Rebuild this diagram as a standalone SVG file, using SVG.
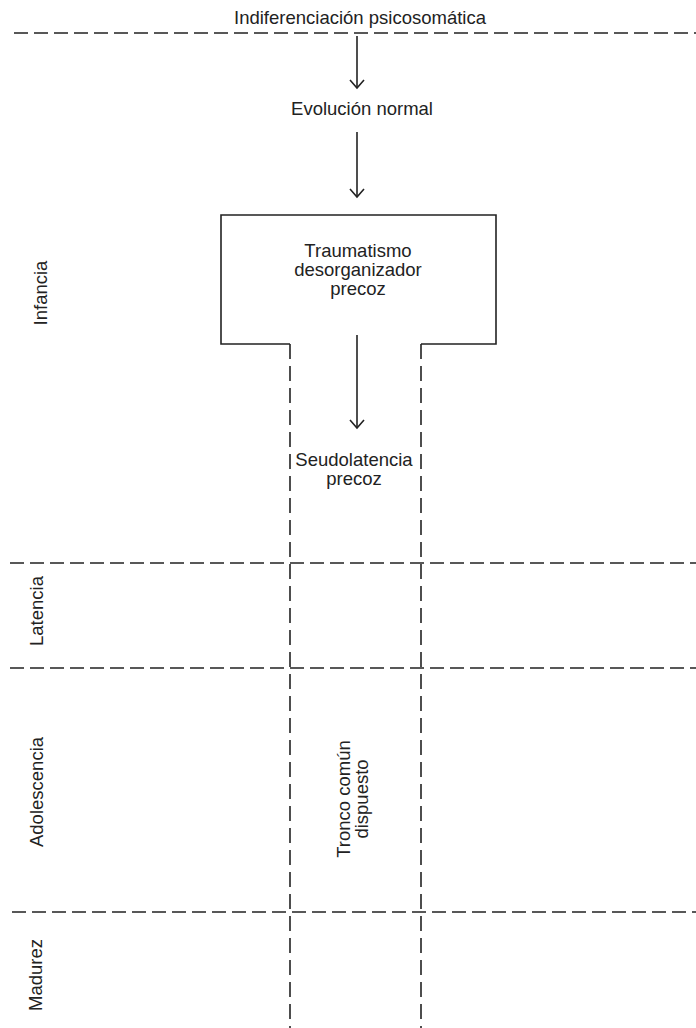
<svg xmlns="http://www.w3.org/2000/svg" width="696" height="1028" viewBox="0 0 696 1028">
<defs>
<style>
.t{font-family:"Liberation Sans",Arial,sans-serif;font-size:18.5px;fill:#222;text-anchor:middle}
.h{stroke:#222;stroke-width:1.6;stroke-dasharray:14 6;fill:none}
.v{stroke:#222;stroke-width:1.6;stroke-dasharray:15 7;fill:none}
.s{stroke:#222;stroke-width:1.6;fill:none}
</style>
<marker id="arr" markerWidth="12" markerHeight="16" refX="10" refY="8" orient="auto" markerUnits="userSpaceOnUse" viewBox="0 0 12 16">
<path d="M2,1 L10,8 L2,15" fill="none" stroke="#222" stroke-width="1.6"/>
</marker>
</defs>
<rect width="696" height="1028" fill="#fff"/>
<g id="grid">
<line class="h" x1="14" y1="33" x2="696" y2="33"/>
<line class="h" x1="10" y1="563" x2="696" y2="563"/>
<line class="h" x1="10" y1="668" x2="696" y2="668"/>
<line class="h" x1="12" y1="912" x2="696" y2="912"/>
</g>
<g id="title"><text class="t" x="360" y="24">Indiferenciación psicosomática</text></g>
<g id="evolucion"><text class="t" x="362" y="115">Evolución normal</text></g>
<g id="traumatismo">
<path class="s" d="M290,344 L221,344 L221,215 L496,215 L496,344 L421,344"/>
<text class="t" x="358" y="257">Traumatismo</text>
<text class="t" x="358" y="276">desorganizador</text>
<text class="t" x="358" y="295">precoz</text>
</g>
<g id="tronco">
<line class="v" x1="290" y1="344" x2="290" y2="1028"/>
<line class="v" x1="421" y1="344" x2="421" y2="1028"/>
<text class="t" transform="translate(350,799) rotate(-90)">Tronco común</text>
<text class="t" transform="translate(368,799) rotate(-90)">dispuesto</text>
</g>
<g id="seudolatencia">
<text class="t" x="354" y="466">Seudolatencia</text>
<text class="t" x="354" y="485">precoz</text>
</g>
<g id="etapas">
<text class="t" transform="translate(47,293) rotate(-90)">Infancia</text>
<text class="t" transform="translate(43,611) rotate(-90)">Latencia</text>
<text class="t" transform="translate(43,792) rotate(-90)">Adolescencia</text>
<text class="t" transform="translate(42,975) rotate(-90)">Madurez</text>
</g>
<g id="connectors">
<line class="s" x1="357" y1="36" x2="357" y2="88" marker-end="url(#arr)"/>
<line class="s" x1="357" y1="132" x2="357" y2="197" marker-end="url(#arr)"/>
<line class="s" x1="357" y1="335" x2="357" y2="428" marker-end="url(#arr)"/>
</g>
</svg>
